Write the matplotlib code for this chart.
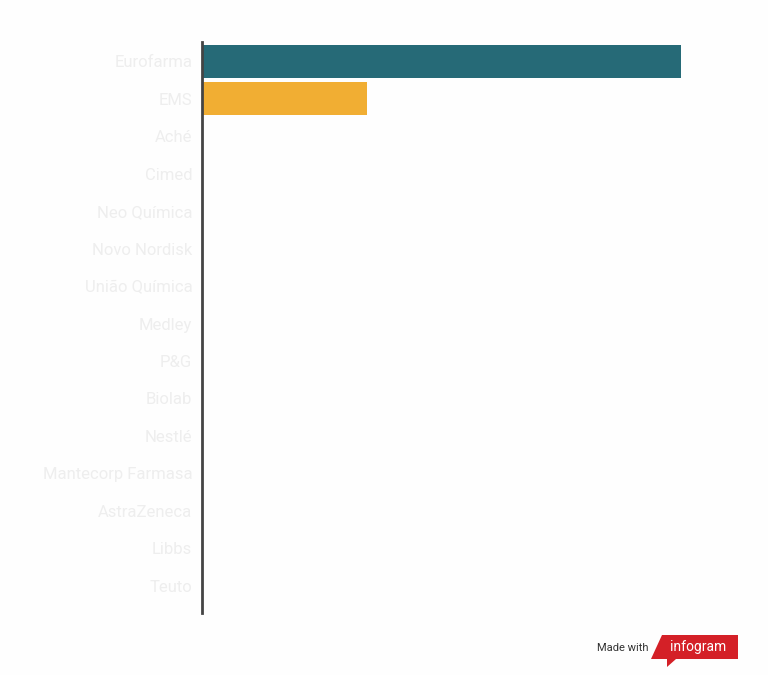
import matplotlib.pyplot as plt
from matplotlib.patches import Polygon

companies = ['Eurofarma', 'EMS', 'Aché', 'Cimed', 'Neo Química', 'Novo Nordisk',
             'União Química', 'Medley', 'P&G', 'Biolab', 'Nestlé',
             'Mantecorp Farmasa', 'AstraZeneca', 'Libbs', 'Teuto']
values = [29, 10, 0, 0, 0, 0, 0, 0, 0, 0, 0, 0, 0, 0, 0]
colors = ['#266a77', '#f1ae33'] + ['#266a77'] * 13

W, H = 768, 675
fig = plt.figure(figsize=(W / 100, H / 100), dpi=100)
fig.patch.set_facecolor('#fefefe')

# axes box in pixels: x 202..681, y 42..613
ax = fig.add_axes([202 / W, 1 - 613 / H, (681 - 202) / W, (613 - 42) / H])
ax.set_facecolor('none')

ys = list(range(len(companies)))
ax.barh(ys, values, height=0.88, color=colors)
ax.set_xlim(0, max(values))
ax.set_ylim(14.73, -0.52)

ax.set_yticks(ys)
ax.set_yticklabels(companies, fontfamily='Roboto', fontsize=12, color='#eeeeee')
for lbl in ax.get_yticklabels():
    lbl.set_va('center_baseline')
ax.tick_params(axis='y', length=0, pad=7)
ax.set_xticks([])

for s in ['top', 'right', 'bottom']:
    ax.spines[s].set_visible(False)
ax.spines['left'].set_color('#444444')
ax.spines['left'].set_linewidth(2)

# footer
fig.text(597 / W, 1 - 648 / H, 'Made with', fontfamily='Roboto', fontsize=8,
         color='#333333', va='center', ha='left')
logo = [(651, 659), (662, 635), (738, 635), (738, 659), (676, 659),
        (667, 667), (667, 659)]
fig.patches.append(Polygon([(x / W, 1 - y / H) for x, y in logo], closed=True,
                           transform=fig.transFigure, facecolor='#d42027',
                           edgecolor='none'))
fig.text(698 / W, 1 - 647 / H, 'infogram', fontfamily='Roboto', fontsize=10,
         color='white', va='center', ha='center')

fig.savefig('out.png', dpi=100, facecolor=fig.get_facecolor())
